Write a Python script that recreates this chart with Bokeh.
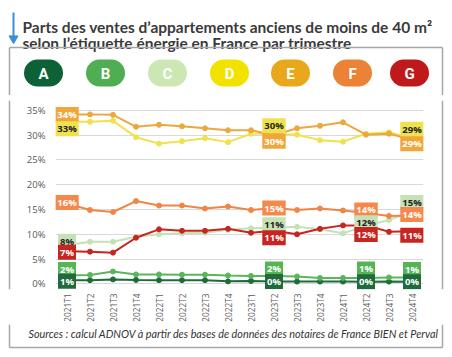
import math
from bokeh.plotting import figure
from bokeh.layouts import column, row
from bokeh.models import PrintfTickFormatter, FixedTicker, ColumnDataSource, Range1d, FactorRange
from bokeh.core.properties import value
from bokeh.embed import file_html
from bokeh.resources import INLINE

# ---------------- data ----------------
quarters = ["2021T1", "2021T2", "2021T3", "2021T4", "2022T1", "2022T2", "2022T3", "2022T4",
            "2023T1", "2023T2", "2023T3", "2023T4", "2024T1", "2024T2", "2024T3", "2024T4"]
classes = ["A", "B", "C", "D", "E", "F", "G"]
share_A = [0.74, 0.75, 0.9, 0.8, 0.75, 0.75, 0.75, 0.5, 0.6, 0.45, 0.45, 0.45, 0.45, 0.4, 0.45, 0.4]
share_B = [1.7, 1.8, 2.5, 1.9, 1.9, 1.85, 1.85, 1.7, 1.6, 1.6, 1.5, 1.2, 1.2, 1.2, 1.3, 1.3]
share_C = [7.8, 8.5, 8.5, 9.5, 10.0, 10.2, 10.3, 10.9, 11.2, 11.3, 11.5, 11.0, 10.2, 11.7, 12.9, 14.6]
share_D = [32.7, 32.7, 32.9, 29.6, 28.3, 28.8, 29.4, 28.6, 30.3, 30.3, 30.1, 29.0, 28.7, 30.3, 30.6, 29.4]
share_E = [34.2, 34.2, 34.1, 31.7, 32.1, 31.8, 31.4, 31.0, 31.0, 30.0, 31.4, 31.9, 32.6, 30.1, 30.3, 29.1]
share_F = [16.2, 14.9, 14.5, 16.7, 15.8, 15.8, 15.2, 15.6, 14.9, 15.3, 14.9, 15.2, 14.8, 14.3, 13.7, 13.8]
share_G = [6.6, 6.5, 6.3, 9.3, 11.0, 10.7, 10.7, 11.1, 10.3, 10.7, 10.0, 11.1, 11.8, 11.8, 10.5, 10.6]
y_ticks = [0, 5, 10, 15, 20, 25, 30, 35]
title_1 = "Parts des ventes d\u2019appartements anciens de moins de 40 m\u00b2"
title_2 = "selon l\u2019\u00e9tiquette \u00e9nergie en France par trimestre"
source_text = "Sources : calcul ADNOV \u00e0 partir des bases de donn\u00e9es des notaires de France BIEN et Perval"

series = dict(A=share_A, B=share_B, C=share_C, D=share_D, E=share_E, F=share_F, G=share_G)

# ---------------- styles ----------------
line_colors = dict(A="#1f6b3c", B="#5bb65b", C="#c6e1b5", D="#eee24e", E="#eca73e", F="#f08545", G="#c82420")
box_colors = dict(A="#1f6b3c", B="#55b555", C="#c6e1b5", D="#efe24e", E="#f1a63c", F="#f5884b", G="#c82420")
box_text = dict(A="white", B="white", C="#222222", D="#222222", E="white", F="white", G="white")
pill_colors = dict(A="#0d6137", B="#4fae52", C="#cde7b4", D="#f1e200", E="#e9a81c", F="#ec8235", G="#c0191b")
pill_cx = dict(A=43, B=105, C=167, D=229, E=290, F=352, G=409)
frame_color = "#a6a6a6"
# (class, quarter index, vertical pixel offset of the label box)
label_spec = [
    ("E", 0, 0), ("D", 0, 7), ("F", 0, -1), ("C", 0, -4), ("G", 0, 1), ("B", 0, -6), ("A", 0, 1),
    ("D", 9, -8), ("E", 9, 6), ("F", 9, 0), ("C", 9, -3), ("G", 9, 7), ("B", 9, -7), ("A", 9, 0),
    ("F", 13, -3), ("C", 13, -3), ("G", 13, 9), ("B", 13, -9), ("A", 13, 0),
    ("D", 15, -9), ("E", 15, 4), ("C", 15, -9), ("F", 15, -1), ("G", 15, 4), ("B", 15, -8), ("A", 15, 0),
]

W = 452
HEAD_H, CHART_H, FOOT_H = 95, 229, 33
STRIP_W = 12
FRAME_L, FRAME_R, FRAME_T, FRAME_B = 55, 423, 100, 290   # chart frame in page px
BOX_L, BOX_R, BOX_T, BOX_B = 9, 442, 47, 347             # grey box in page px


def deco_fig(w, h, y0):
    """A figure whose data coordinates are page pixels (y downward)."""
    f = figure(width=w, height=h, output_backend="svg", toolbar_location=None, title=None,
               x_range=Range1d(0, w), y_range=Range1d(y0 + h, y0),
               x_axis_location=None, y_axis_location=None, min_border=0,
               background_fill_color="white", border_fill_color="white")
    f.outline_line_color = None
    f.grid.visible = False
    return f


# ---------------- header: title, arrow, pills ----------------
head = deco_fig(W, HEAD_H, 0)
head.text(x=[22, 22], y=[26, 42], text=[title_1, title_2], text_font=value("Lato"),
          text_font_style="bold", text_font_size="15.5px", text_color="#3a3a3a",
          text_baseline="alphabetic", text_align="left")
head.segment(x0=[13], y0=[12], x1=[13], y1=[36], line_color="#3a8fd6", line_width=2)
head.scatter(x=[13], y=[38], marker="inverted_triangle", size=9, fill_color="#3a8fd6",
             line_color="#3a8fd6")
head.segment(x0=[BOX_L, BOX_L, BOX_R], y0=[BOX_T, BOX_T, BOX_T],
             x1=[BOX_R, BOX_L, BOX_R], y1=[BOX_T, HEAD_H, HEAD_H],
             line_color=frame_color, line_width=1.5)
pcx = [pill_cx[c] for c in classes]
head.segment(x0=[x - 6 for x in pcx], y0=[72.5] * 7, x1=[x + 6 for x in pcx], y1=[72.5] * 7,
             line_color=[pill_colors[c] for c in classes], line_width=27, line_cap="round")
head.text(x=pcx, y=[73] * 7, text=classes, text_font=value("Roboto"), text_font_style="bold",
          text_font_size="15px", text_color="white", text_align="center", text_baseline="middle")

# ---------------- chart ----------------
p = figure(width=W - 2 * STRIP_W, height=CHART_H, output_backend="svg", toolbar_location=None,
           title=None, x_range=FactorRange(*quarters, range_padding=0),
           y_range=Range1d(-1.14, 37.0),
           min_border_left=FRAME_L - STRIP_W, min_border_right=W - STRIP_W - FRAME_R,
           min_border_top=FRAME_T - HEAD_H, min_border_bottom=HEAD_H + CHART_H - FRAME_B,
           background_fill_color="white", border_fill_color="white")
p.outline_line_color = None
p.xgrid.grid_line_color = None
p.ygrid.grid_line_color = "#d9d9d9"
p.ygrid.grid_line_width = 1
p.yaxis.ticker = FixedTicker(ticks=y_ticks)
p.yaxis.formatter = PrintfTickFormatter(format="%d%%")
for ax in (p.xaxis, p.yaxis):
    ax.axis_line_color = None
    ax.major_tick_line_color = None
    ax.minor_tick_line_color = None
    ax.major_tick_out = 0
    ax.major_tick_in = 0
    ax.minor_tick_out = 0
    ax.major_label_text_color = "#595959"
    ax.major_label_text_font = "Open Sans"
p.yaxis.major_label_text_font_size = "9.5px"
p.yaxis.major_label_standoff = 10
p.xaxis.major_label_text_font_size = "8.3px"
p.xaxis.major_label_orientation = math.pi / 2
p.xaxis.major_label_standoff = 4

for c in ["A", "B", "C", "G", "F", "D", "E"]:
    p.line(quarters, series[c], line_color=line_colors[c], line_width=2)
    p.scatter(quarters, series[c], size=5, fill_color=line_colors[c], line_color=line_colors[c])

lab = dict(x=[], y=[], text=[], fill=[], tcol=[], dy=[])
for c, i, dy in label_spec:
    v = series[c][i]
    lab["x"].append(quarters[i])
    lab["y"].append(v)
    lab["text"].append(f"{round(v)}%")
    lab["fill"].append(box_colors[c])
    lab["tcol"].append(box_text[c])
    lab["dy"].append(dy)
p.text(x="x", y="y", text="text", source=ColumnDataSource(lab), y_offset="dy",
       text_align="center", text_baseline="middle", text_color="tcol",
       text_font=value("Open Sans"), text_font_style="bold", text_font_size="9.5px",
       background_fill_color="fill", padding=(2, 1))

# side strips carrying the grey box edges next to the chart
left = deco_fig(STRIP_W, CHART_H, HEAD_H)
left.segment(x0=[BOX_L], y0=[HEAD_H], x1=[BOX_L], y1=[HEAD_H + CHART_H],
             line_color=frame_color, line_width=1.5)
right = deco_fig(STRIP_W, CHART_H, HEAD_H)
right.x_range = Range1d(W - STRIP_W, W)
right.segment(x0=[BOX_R], y0=[HEAD_H], x1=[BOX_R], y1=[HEAD_H + CHART_H],
              line_color=frame_color, line_width=1.5)

# ---------------- footer: source + box bottom ----------------
foot = deco_fig(W, FOOT_H, HEAD_H + CHART_H)
foot.text(x=[28], y=[333], text=[source_text], text_font=value("Lato"), text_font_style="italic",
          text_font_size="10.8px", text_color="#333333", text_baseline="alphabetic",
          text_align="left")
y_top = HEAD_H + CHART_H
foot.segment(x0=[BOX_L, BOX_L, BOX_R], y0=[BOX_B, y_top, y_top],
             x1=[BOX_R, BOX_L, BOX_R], y1=[BOX_B, BOX_B, BOX_B],
             line_color=frame_color, line_width=1.5)

layout = column(head, row(left, p, right, spacing=0), foot, spacing=0)
open("out.html", "w").write(file_html(layout, INLINE))
